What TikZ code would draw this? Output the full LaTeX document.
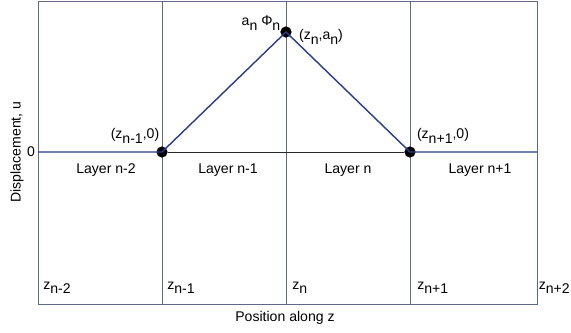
\documentclass[tikz,border=0pt]{standalone}
\usepackage{fontspec}
\setmainfont{Liberation Sans}
\definecolor{curveblue}{RGB}{40,60,135}
\definecolor{framegray}{RGB}{95,105,135}
\newcommand\dn[1]{\raisebox{-0.6ex}{#1}}
\tikzset{
  frame/.style={draw=framegray, line width=0.5pt},
  curve/.style={draw=curveblue, line width=1pt},
  dot/.style={circle, fill=black, inner sep=0pt, minimum size=8pt},
  lbl/.style={font=\fontsize{10}{12}\selectfont, inner sep=0pt}
}
\begin{document}
\begin{tikzpicture}[x=0.025cm,y=-0.025cm]
\useasboundingbox (0,0) rectangle (571,333);
% frame and layer boundaries
\draw[frame] (38,1) rectangle (537,304);
\foreach \x in {162,286,410}
  \draw[frame] (\x,1) -- (\x,304);
% nodes of the profile
\coordinate (zl) at (38,152);
\coordinate (zr) at (537,152);
\node[dot] (p1) at (162,152) {};
\node[dot] (p2) at (286,32) {};
\node[dot] (p3) at (410,152) {};
\draw[black!85, line width=0.6pt] (p1) -- (p3);
\draw[curve] (zl) -- (p1.center) -- (p2.center) -- (p3.center) -- (zr);
% point labels
\node[lbl] (lp1) at (135,136) {(z\dn{n-1},0)};
\node[lbl] (lp2) at (261,23) {a\dn{n} Φ\dn{n}};
\node[lbl] (lp2b) at (321,37) {(z\dn{n},a\dn{n})};
\node[lbl] (lp3) at (443,136) {(z\dn{n+1},0)};
% layers
\node[lbl] (l1) at (106,170) {Layer n-2};
\node[lbl] (l2) at (228,170) {Layer n-1};
\node[lbl] (l3) at (348,170) {Layer n};
\node[lbl] (l4) at (480,170) {Layer n+1};
% positions
\node[lbl, anchor=west] (z1) at (43,288) {z\dn{n-2}};
\node[lbl, anchor=west] (z2) at (167,288) {z\dn{n-1}};
\node[lbl, anchor=west] (z3) at (292,288) {z\dn{n}};
\node[lbl, anchor=west] (z4) at (417,288) {z\dn{n+1}};
\node[lbl, anchor=east] (z5) at (570,288) {z\dn{n+2}};
% axes
\node[lbl] (zero) at (31,152) {0};
\node[lbl] (xlab) at (285,318) {Position along z};
\node[lbl, rotate=90] (ylab) at (17,152) {Displacement, u};
\end{tikzpicture}
\end{document}
